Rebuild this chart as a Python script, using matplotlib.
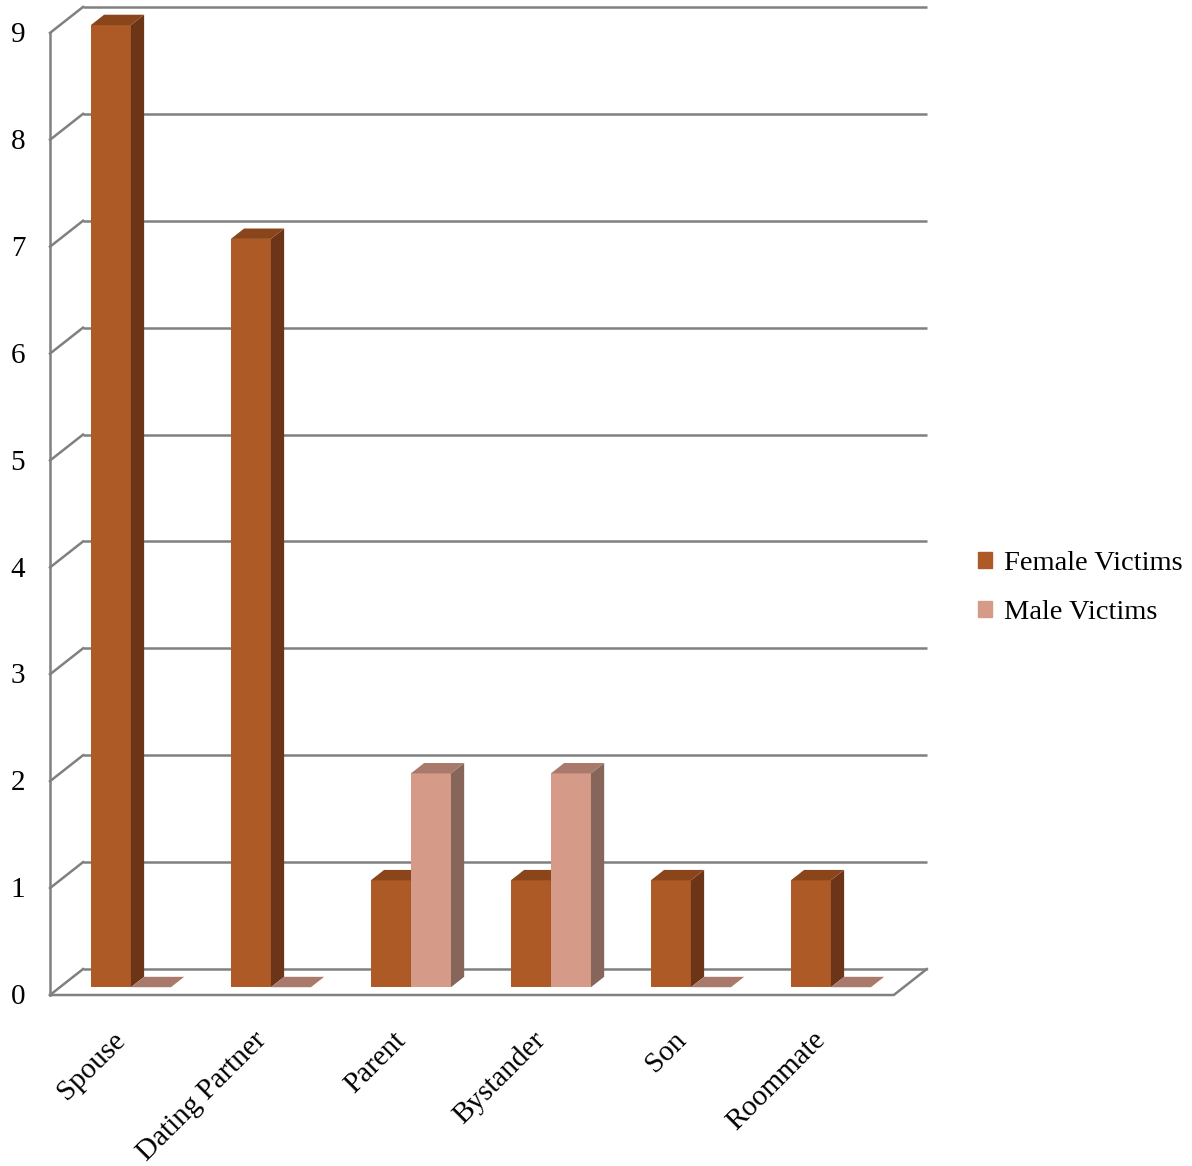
import matplotlib.pyplot as plt
from matplotlib.patches import Polygon, Patch

categories = ["Spouse", "Dating Partner", "Parent", "Bystander", "Son", "Roommate"]
female = [9, 7, 1, 1, 1, 1]
male = [0, 0, 2, 2, 0, 0]
y_ticks = list(range(10))

# pseudo 3d: full depth shift (x in category units, y in value units)
DX, DY = 0.236, 0.243
BAR_W = 0.286
D0, D1 = 0.3, 0.7
XL, XR = -0.507, 5.52

F_COLORS = ("#AD5A27", "#8A451B", "#6D3517")   # front, top, side
M_COLORS = ("#D59B88", "#A97A6C", "#86655A")
GRID = "#808080"

plt.rcParams['font.family'] = ['Liberation Serif', 'DejaVu Serif']


def proj(x, v, d):
    return (x + d * DX, v + d * DY)


def draw_bar(ax, x0, h, colors):
    x1 = x0 + BAR_W
    front, top, side = colors
    if h > 0:
        ax.bar(x0 + D0 * DX, h, width=BAR_W, bottom=D0 * DY, align='edge',
               color=front, zorder=3, linewidth=0)
        ax.add_patch(Polygon([proj(x1, 0, D0), proj(x1, 0, D1), proj(x1, h, D1), proj(x1, h, D0)],
                             closed=True, color=side, zorder=3, linewidth=0))
    ax.add_patch(Polygon([proj(x0, h, D0), proj(x1, h, D0), proj(x1, h, D1), proj(x0, h, D1)],
                         closed=True, color=top, zorder=3, linewidth=0))


fig = plt.figure(figsize=(11.92, 11.66), dpi=100)
ax = fig.add_axes([0, 0, 1, 1])
ax.set_xlim(-121 / 140, (1192 - 121) / 140)
ax.set_ylim((995 - 1166) / 106.9, 995 / 106.9)
ax.axis('off')

# back wall gridlines + left wall
for v in y_ticks:
    a, b = proj(XL, v, 1), proj(XR, v, 1)
    ax.plot([a[0], b[0]], [a[1], b[1]], color=GRID, lw=1.8, zorder=1, solid_capstyle='butt')
    c = proj(XL, v, 0)
    ax.plot([c[0], a[0]], [c[1], a[1]], color=GRID, lw=1.8, zorder=1)
    ax.text(-0.736, v - 0.02, str(v), ha='center', va='center', fontsize=21)
ax.plot([XL, XL], [0, y_ticks[-1]], color=GRID, lw=1.8, zorder=1)

# floor
p0, p1, p2 = proj(XL, 0, 0), proj(XR, 0, 0), proj(XR, 0, 1)
ax.plot([p0[0], p1[0], p2[0]], [p0[1], p1[1], p2[1]], color=GRID, lw=1.8, zorder=1)

for i, cat in enumerate(categories):
    draw_bar(ax, i - BAR_W, female[i], F_COLORS)
    draw_bar(ax, i, male[i], M_COLORS)
    ax.text(i - 0.06, -0.3, cat, rotation=45, rotation_mode='anchor',
            ha='right', va='top', fontsize=21)

handles = [Patch(color=F_COLORS[0], label="Female Victims"),
           Patch(color=M_COLORS[0], label="Male Victims")]
ax.legend(handles=handles, loc='center left', bbox_to_anchor=(0.811, 0.4955),
          frameon=False, fontsize=20.5, handlelength=0.5, handleheight=0.5,
          handletextpad=0.4, labelspacing=0.85, borderaxespad=0)

fig.savefig("out.png", dpi=100)
